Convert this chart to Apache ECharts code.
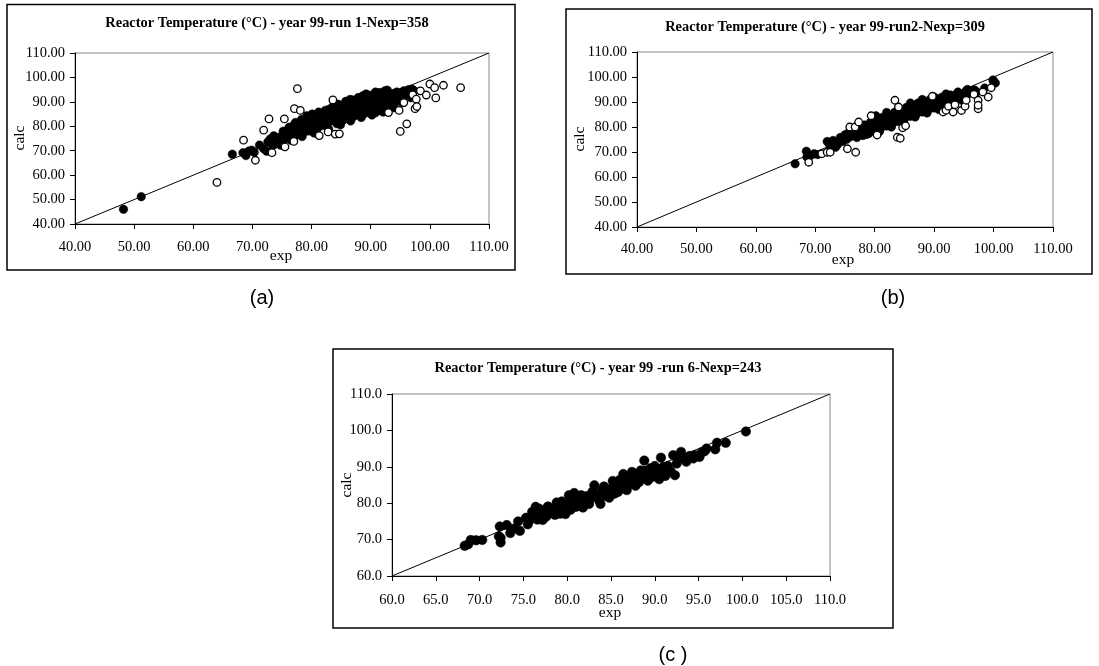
<!DOCTYPE html>
<html>
<head>
<meta charset="utf-8">
<script src="https://cdn.jsdelivr.net/npm/echarts@6/dist/echarts.min.js"></script>
<style>
html,body{margin:0;padding:0;background:#fff;}
#chart{width:1099px;height:666px;}
</style>
</head>
<body>
<div id="chart"></div>
<script>
// ---------- DATA ----------
const titleA = 'Reactor Temperature (°C) - year 99-run 1-Nexp=358';
const titleB = 'Reactor Temperature (°C) - year 99-run2-Nexp=309';
const titleC = 'Reactor Temperature (°C) - year 99 -run 6-Nexp=243';
const captions = ['(a)', '(b)', '(c )'];
const axisNameX = 'exp';
const axisNameY = 'calc';

const rangeAB = [40, 110];   // axis min/max for panels a, b
const stepAB = 10;
const rangeCx = [60, 110];
const stepCx = 5;
const rangeCy = [60, 110];
const stepCy = 10;

// panel (a) run 1 : [exp, calc]
const runA_filled = [
  [48.2,46.0],[51.2,51.2],[66.6,68.6],[68.4,69.2],[68.9,68.0],[69.4,69.9],[69.9,70.2],[70.3,69.4],
  [71.2,72.3],[71.9,70.8],[72.4,69.8],[72.6,73.6],[73.0,74.8],[73.4,72.2],[73.8,72.6],[73.6,76.1],
  [74.2,73.0],[74.5,75.5],[74.8,72.2],[75.1,74.3],[75.4,77.0],[75.6,75.0],[75.9,78.2],[76.2,76.1],
  [76.4,74.8],[76.7,79.3],[76.9,77.4],[77.2,75.9],[77.5,80.1],[77.7,78.3],[78.0,76.6],[78.2,81.2],
  [78.5,79.4],[78.7,77.5],[79.0,82.3],[79.2,80.0],[79.5,78.1],[79.7,84.0],[79.9,81.5],[80.2,79.2],
  [80.4,77.3],[80.6,83.2],[80.8,81.0],[81.1,84.8],[81.3,79.8],[81.5,82.6],[81.8,80.4],[82.0,85.1],
  [82.2,83.4],[82.5,81.2],[82.7,79.6],[83.0,86.0],[83.2,84.1],[83.4,82.3],[83.7,88.2],[83.9,85.5],
  [84.1,83.0],[84.3,81.0],[84.6,87.3],[84.8,85.9],[85.0,84.2],[85.3,82.5],[85.5,88.9],[85.7,86.8],
  [86.0,85.0],[86.2,83.1],[86.4,89.9],[86.7,87.6],[86.9,85.8],[87.1,84.0],[87.4,90.6],[87.6,88.4],
  [87.8,86.5],[88.1,84.7],[88.3,91.1],[88.5,89.2],[88.8,87.3],[89.0,85.3],[89.2,93.2],[89.4,90.4],
  [89.7,88.3],[89.9,86.2],[90.1,91.7],[90.4,89.6],[90.6,87.1],[90.8,85.5],[91.1,92.0],[91.3,90.2],
  [91.5,88.2],[91.8,86.4],[92.0,93.6],[92.2,91.4],[92.5,89.5],[92.7,87.7],[93.0,92.8],[93.2,90.6],
  [93.4,88.9],[93.7,93.4],[93.9,91.5],[94.1,89.8],[94.4,94.0],[94.6,92.1],[94.8,90.6],[95.1,93.8],
  [95.3,91.8],[95.6,94.5],[95.8,92.6],[96.1,93.4],[96.4,95.0],[96.7,94.0],[97.0,95.2],[97.3,94.6],
  [80.0,80.3],[81.0,81.8],[82.0,82.0],[83.0,83.0],[84.0,84.6],[85.0,86.5],[86.0,87.6],[87.0,88.9],
  [88.0,88.0],[89.0,89.0],[90.0,89.9],[91.0,89.0],[92.0,90.4],[93.0,91.2],[78.5,81.5],[79.5,83.0],
  [77.0,80.5],[76.0,76.8],[82.8,86.8],[84.5,89.0],[86.5,91.0],[88.6,92.3],[90.5,93.0],[92.4,94.5],
  [88.8,92.6],[89.6,92.8],[91.5,93.8],[90.8,94.0],[92.8,94.8],[87.9,91.8],[86.9,90.8],[85.8,90.2],
  [84.8,88.6],[83.4,87.6],[82.3,86.5],[81.2,85.8],[80.1,85.0],[79.2,84.3],[78.3,82.8],[77.3,81.6],
  [76.2,79.6],[75.2,78.0],[76.6,74.2],[78.4,75.8],[80.9,77.0],[82.9,78.8],[84.9,80.6],[86.6,82.2],
  [88.4,83.6],[90.2,84.6],[92.1,85.8],[93.8,87.6],[95.4,89.6],[96.8,91.7],[81.5,83.8],[83.5,85.0],
  [85.5,87.2],[87.5,89.6],[89.5,91.2],[91.5,91.5],[93.5,92.2],[80.5,79.8],[82.5,80.5],[84.5,82.2],
  [86.5,84.8],[88.5,86.2],[90.5,88.3],[92.5,88.3],[94.5,90.2]
];
const runA_open = [
  [64.0,57.0],[68.5,74.3],[70.5,66.1],[71.9,78.4],[72.8,83.0],[73.3,69.2],[75.4,83.0],[75.5,71.6],
  [77.0,73.8],[77.1,87.2],[77.6,95.4],[78.1,86.5],[81.3,76.2],[82.8,77.7],[83.6,90.8],[84.0,76.8],
  [84.7,76.9],[93.0,85.6],[94.8,86.5],[95.0,77.9],[95.6,89.7],[96.1,81.0],[97.1,92.9],[97.5,87.2],
  [97.7,91.1],[97.8,88.1],[98.4,94.5],[99.4,92.8],[100.0,97.3],[100.8,95.8],[101.0,91.6],[102.3,96.8],
  [105.2,95.8]
];

// panel (b) run 2
const runB_filled = [
  [66.6,65.3],[68.5,70.3],[68.6,68.0],[69.2,68.6],[69.8,69.3],[70.4,69.0],[72.0,74.2],[72.4,73.0],
  [73.0,74.6],[73.4,71.9],[73.7,72.8],[74.2,75.8],[74.6,74.2],[75.0,76.9],[75.3,75.1],[75.7,78.0],
  [76.0,76.2],[76.3,78.9],[76.7,77.1],[77.0,75.8],[77.3,79.7],[77.6,77.9],[78.0,76.6],[78.3,80.8],
  [78.6,79.0],[79.0,77.4],[79.3,81.9],[79.6,80.0],[80.0,78.4],[80.3,83.0],[80.6,81.1],[81.0,79.5],
  [81.3,83.8],[81.6,82.0],[82.0,80.4],[82.3,84.7],[82.6,83.0],[83.0,81.3],[83.3,85.8],[83.6,84.0],
  [84.0,82.2],[84.3,86.6],[84.6,85.0],[85.0,83.3],[85.3,87.8],[85.6,86.0],[86.0,84.3],[86.3,88.9],
  [86.6,87.1],[87.0,85.2],[87.3,89.6],[87.6,87.8],[88.0,86.0],[88.3,90.3],[88.6,88.5],[89.0,86.8],
  [89.3,91.0],[89.6,89.2],[90.0,87.6],[90.3,91.3],[90.6,89.8],[91.0,88.3],[91.3,91.9],[91.6,90.2],
  [92.0,92.4],[92.3,90.8],[92.7,92.8],[93.0,91.0],[93.4,92.6],[93.8,91.3],[94.2,93.0],[94.6,91.9],
  [95.0,93.5],[95.4,94.5],[95.8,93.3],[96.2,94.4],[96.8,94.8],[97.2,94.0],[98.5,95.6],
  [100.0,98.4],[100.3,97.6],[99.9,98.8],
  [77.0,78.2],[79.0,80.0],[81.0,81.8],[83.0,83.4],[85.0,85.5],[87.0,87.2],[89.0,88.6],[91.0,90.0],
  [84.0,84.3],[86.0,86.5],[88.0,88.0],[90.0,89.3],
  [80.2,84.5],[82.0,85.8],[84.0,87.5],[86.0,89.6],[88.0,91.0],[90.0,92.0],[92.0,93.2],[94.0,94.0],
  [95.6,95.0],[78.6,77.0],[80.8,78.2],[82.8,80.0],[84.8,82.0],[86.8,84.0],[88.8,85.6],[90.8,87.0],
  [92.8,89.0],[94.8,90.5]
];
const runB_open = [
  [68.9,65.9],[71.1,69.3],[72.0,69.9],[72.5,69.9],[75.4,71.3],[75.8,80.0],[76.7,80.0],[76.8,69.9],
  [77.3,82.0],[79.4,84.5],[80.4,76.8],[83.4,90.7],[83.8,75.9],[84.3,75.5],[84.0,88.0],[84.7,79.7],
  [85.2,80.5],[89.7,92.3],[91.5,86.0],[92.0,86.7],[92.4,88.3],[93.2,86.0],[93.5,88.9],[94.6,86.6],
  [95.2,88.3],[95.4,90.7],[96.7,93.1],[97.4,90.7],[97.4,87.3],[97.4,88.7],[98.2,94.0],[99.1,92.0],
  [99.6,95.7]
];

// panel (c) run 6
const runC_filled = [
  [68.3,68.3],[68.7,68.7],[69.0,69.9],[69.6,69.8],[70.3,69.9],[72.2,70.9],[72.3,73.6],[72.4,69.2],
  [72.4,70.5],[73.1,74.0],[73.5,71.8],[73.9,73.0],[74.4,75.0],[74.6,72.4],[75.3,76.0],[75.5,74.2],
  [75.8,75.5],[76.0,77.6],[76.2,76.2],[76.4,79.0],[76.6,75.5],[76.8,78.5],[77.0,77.0],[77.2,75.4],
  [77.4,78.0],[77.6,76.3],[77.8,79.1],[78.0,77.3],[78.3,78.4],[78.6,76.8],[78.8,80.2],[79.0,79.0],
  [79.2,77.1],[79.4,80.5],[79.6,78.5],[79.8,77.0],[80.0,79.8],[80.2,82.2],[80.4,78.2],[80.6,80.5],
  [80.8,82.8],[81.0,79.0],[81.2,81.5],[81.4,80.0],[81.6,82.2],[81.8,78.8],[82.0,80.5],[82.3,82.0],
  [82.5,79.8],[82.8,81.6],[83.1,84.9],[83.3,82.4],[83.6,80.9],[83.8,79.8],[84.0,83.5],[84.2,84.6],
  [84.4,82.0],[84.6,83.0],[84.8,81.5],[85.0,84.0],[85.2,86.1],[85.4,82.6],[85.6,84.8],[85.8,83.1],
  [86.0,86.4],[86.2,84.0],[86.4,88.0],[86.6,85.2],[86.8,83.6],[87.0,87.0],[87.2,85.3],[87.4,88.6],
  [87.6,86.4],[87.8,84.8],[88.0,87.5],[88.2,85.8],[88.4,89.0],[88.6,86.8],[88.8,91.7],[89.0,88.0],
  [89.2,86.2],[89.5,89.6],[89.7,87.2],[90.0,90.2],[90.2,88.4],[90.5,86.6],[90.7,92.5],[90.9,89.3],
  [91.2,87.5],[91.5,90.2],[91.8,88.8],[92.1,93.2],[92.3,87.7],[92.5,90.9],[93.0,94.1],[93.3,92.4],
  [93.6,91.4],[94.0,93.0],[94.4,92.3],[94.6,93.2],[95.1,92.7],[95.4,94.0],[95.7,94.3],[95.9,95.0],
  [96.9,94.8],[97.1,96.6],[98.1,96.6],[100.4,99.7],
  [80.9,80.9],[82.9,83.2],[85.5,85.5],[86.9,86.9],[88.9,88.9],[91.0,90.0],[92.6,92.0]
];

// ---------- CHART ----------
const chart = echarts.init(document.getElementById('chart'), null, {renderer: 'canvas'});
const serif = 'Liberation Serif';

const grids = [
  {left: 75, top: 53, width: 414, height: 171},
  {left: 637, top: 52, width: 416, height: 175},
  {left: 392, top: 394, width: 438, height: 182}
];

function xAxis(idx, rng, step, dec, margin) {
  return {
    type: 'value', gridIndex: idx, min: rng[0], max: rng[1], interval: step,
    axisLine: {show: true, onZero: false, lineStyle: {color: '#000', width: 1}},
    axisTick: {show: true, inside: false, length: 5, lineStyle: {color: '#000'}},
    axisLabel: {color: '#000', fontFamily: serif, fontSize: 14.5, margin: margin,
      formatter: v => v.toFixed(dec)},
    splitLine: {show: false}
  };
}
function yAxis(idx, rng, step, dec) {
  return {
    type: 'value', gridIndex: idx, min: rng[0], max: rng[1], interval: step,
    axisLine: {show: true, onZero: false, lineStyle: {color: '#000', width: 1}},
    axisTick: {show: true, inside: false, length: 5, lineStyle: {color: '#000'}},
    axisLabel: {color: '#000', fontFamily: serif, fontSize: 14.5, margin: 10,
      formatter: v => v.toFixed(dec)},
    splitLine: {show: false}
  };
}

function filledSeries(idx, data, size) {
  return {type: 'scatter', xAxisIndex: idx, yAxisIndex: idx, data: data,
    symbol: 'circle', symbolSize: size, z: 2, silent: true,
    itemStyle: {color: '#000', borderColor: '#000', borderWidth: 0.5, opacity: 1}};
}
function openSeries(idx, data) {
  return {type: 'scatter', xAxisIndex: idx, yAxisIndex: idx, data: data,
    symbol: 'circle', symbolSize: 7.5, z: 4, silent: true,
    itemStyle: {color: '#fff', borderColor: '#000', borderWidth: 1.3, opacity: 1}};
}
function diagSeries(idx, lo, hi) {
  return {type: 'line', xAxisIndex: idx, yAxisIndex: idx, data: [[lo, lo], [hi, hi]],
    symbol: 'none', z: 3, silent: true, animation: false,
    lineStyle: {color: '#000', width: 1}};
}

function txt(x, y, text, font, opts) {
  return Object.assign({type: 'text', x: x, y: y, silent: true,
    style: {text: text, font: font, fill: '#000', align: 'center', verticalAlign: 'middle'}}, opts || {});
}

const titleFont = 'bold 14.4px "Liberation Serif"';
const nameFont = '15.5px "Liberation Serif"';
const capFont = '20px "Liberation Sans"';

const option = {
  animation: false,
  backgroundColor: '#fff',
  grid: grids.map(g => Object.assign({show: true, borderColor: '#888', borderWidth: 1,
    backgroundColor: 'transparent', containLabel: false}, g)),
  xAxis: [xAxis(0, rangeAB, stepAB, 2, 16), xAxis(1, rangeAB, stepAB, 2, 15), xAxis(2, rangeCx, stepCx, 1, 17)],
  yAxis: [yAxis(0, rangeAB, stepAB, 2), yAxis(1, rangeAB, stepAB, 2), yAxis(2, rangeCy, stepCy, 1)],
  series: [
    filledSeries(0, runA_filled, 8.5), diagSeries(0, rangeAB[0], rangeAB[1]), openSeries(0, runA_open),
    filledSeries(1, runB_filled, 8.5), diagSeries(1, rangeAB[0], rangeAB[1]), openSeries(1, runB_open),
    filledSeries(2, runC_filled, 9.5), diagSeries(2, rangeCx[0], rangeCx[1])
  ],
  graphic: [
    {type: 'rect', silent: true, shape: {x: 7, y: 4.5, width: 508, height: 265.5},
      style: {fill: 'none', stroke: '#000', lineWidth: 1.5}},
    {type: 'rect', silent: true, shape: {x: 566, y: 9, width: 526, height: 265},
      style: {fill: 'none', stroke: '#000', lineWidth: 1.5}},
    {type: 'rect', silent: true, shape: {x: 333, y: 349, width: 560, height: 279},
      style: {fill: 'none', stroke: '#000', lineWidth: 1.5}},
    txt(267, 23, titleA, titleFont),
    txt(825, 27, titleB, titleFont),
    txt(598, 368, titleC, titleFont),
    txt(20, 138, axisNameY, nameFont, {rotation: Math.PI / 2}),
    txt(580, 139, axisNameY, nameFont, {rotation: Math.PI / 2}),
    txt(347, 485, axisNameY, nameFont, {rotation: Math.PI / 2}),
    txt(281, 256, axisNameX, nameFont),
    txt(843, 260, axisNameX, nameFont),
    txt(610, 613, axisNameX, nameFont),
    txt(262, 298, captions[0], capFont),
    txt(893, 298, captions[1], capFont),
    txt(673, 655, captions[2], capFont)
  ]
};
chart.setOption(option);
</script>
</body>
</html>
